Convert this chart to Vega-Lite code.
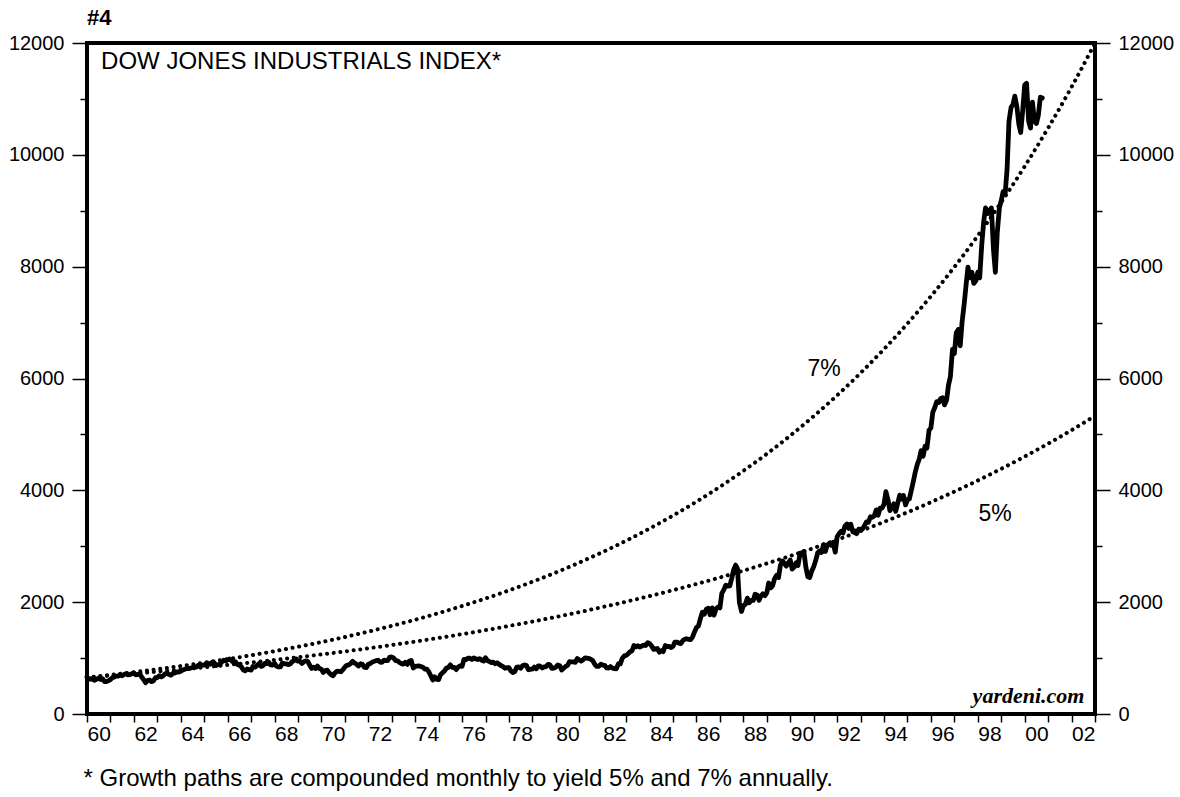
{
"$schema": "https://vega.github.io/schema/vega-lite/v6.json",
"width": 1008, "height": 671,
"autosize": {"type": "none"},
"padding": {"left": 87, "top": 43, "right": 85, "bottom": 83},
"background": "white",
"config": {
  "view": {"stroke": "black", "strokeWidth": 4},
  "axis": {"labelFont": "Liberation Sans", "titleFont": "Liberation Sans", "labelColor": "black", "titleColor": "black", "tickColor": "black", "domain": false, "grid": false},
  "text": {"font": "Liberation Sans", "color": "black"}
},
"title": {"text": "#4", "anchor": "start", "frame": "group", "fontSize": 22, "fontWeight": "bold", "font": "Liberation Sans", "color": "black", "offset": 3},
"datasets": {
"dow": [
{"year":1960,"dow":660},{"year":1960.08,"dow":623},{"year":1960.17,"dow":630},{"year":1960.25,"dow":617},{"year":1960.33,"dow":602},{"year":1960.42,"dow":626},{"year":1960.5,"dow":641},{"year":1960.58,"dow":617},{"year":1960.67,"dow":626},{"year":1960.75,"dow":580},{"year":1960.83,"dow":580},{"year":1960.92,"dow":597},{"year":1961,"dow":616},
{"year":1961.08,"dow":648},{"year":1961.17,"dow":662},{"year":1961.25,"dow":677},{"year":1961.33,"dow":679},{"year":1961.42,"dow":697},{"year":1961.5,"dow":684},{"year":1961.58,"dow":705},{"year":1961.67,"dow":720},{"year":1961.75,"dow":701},{"year":1961.83,"dow":704},{"year":1961.92,"dow":722},{"year":1962,"dow":731},
{"year":1962.08,"dow":700},{"year":1962.17,"dow":708},{"year":1962.25,"dow":707},{"year":1962.33,"dow":665},{"year":1962.42,"dow":613},{"year":1962.5,"dow":561},{"year":1962.58,"dow":598},{"year":1962.67,"dow":609},{"year":1962.75,"dow":579},{"year":1962.83,"dow":590},{"year":1962.92,"dow":649},{"year":1963,"dow":652},
{"year":1963.08,"dow":683},{"year":1963.17,"dow":663},{"year":1963.25,"dow":683},{"year":1963.33,"dow":718},{"year":1963.42,"dow":727},{"year":1963.5,"dow":707},{"year":1963.58,"dow":695},{"year":1963.67,"dow":729},{"year":1963.75,"dow":733},{"year":1963.83,"dow":755},{"year":1963.92,"dow":751},{"year":1964,"dow":763},
{"year":1964.08,"dow":785},{"year":1964.17,"dow":800},{"year":1964.25,"dow":813},{"year":1964.33,"dow":811},{"year":1964.42,"dow":821},{"year":1964.5,"dow":832},{"year":1964.58,"dow":841},{"year":1964.67,"dow":839},{"year":1964.75,"dow":875},{"year":1964.83,"dow":873},{"year":1964.92,"dow":875},{"year":1965,"dow":874},
{"year":1965.08,"dow":903},{"year":1965.17,"dow":904},{"year":1965.25,"dow":889},{"year":1965.33,"dow":922},{"year":1965.42,"dow":918},{"year":1965.5,"dow":868},{"year":1965.58,"dow":882},{"year":1965.67,"dow":893},{"year":1965.75,"dow":931},{"year":1965.83,"dow":961},{"year":1965.92,"dow":947},{"year":1966,"dow":969},
{"year":1966.08,"dow":984},{"year":1966.17,"dow":952},{"year":1966.25,"dow":925},{"year":1966.33,"dow":934},{"year":1966.42,"dow":884},{"year":1966.5,"dow":870},{"year":1966.58,"dow":847},{"year":1966.67,"dow":788},{"year":1966.75,"dow":774},{"year":1966.83,"dow":807},{"year":1966.92,"dow":792},{"year":1967,"dow":786},
{"year":1967.08,"dow":850},{"year":1967.17,"dow":839},{"year":1967.25,"dow":866},{"year":1967.33,"dow":897},{"year":1967.42,"dow":853},{"year":1967.5,"dow":860},{"year":1967.58,"dow":904},{"year":1967.67,"dow":901},{"year":1967.75,"dow":927},{"year":1967.83,"dow":880},{"year":1967.92,"dow":876},{"year":1968,"dow":905},
{"year":1968.08,"dow":856},{"year":1968.17,"dow":841},{"year":1968.25,"dow":841},{"year":1968.33,"dow":912},{"year":1968.42,"dow":899},{"year":1968.5,"dow":898},{"year":1968.58,"dow":883},{"year":1968.67,"dow":896},{"year":1968.75,"dow":936},{"year":1968.83,"dow":952},{"year":1968.92,"dow":985},{"year":1969,"dow":944},
{"year":1969.08,"dow":946},{"year":1969.17,"dow":905},{"year":1969.25,"dow":936},{"year":1969.33,"dow":950},{"year":1969.42,"dow":938},{"year":1969.5,"dow":873},{"year":1969.58,"dow":816},{"year":1969.67,"dow":837},{"year":1969.75,"dow":813},{"year":1969.83,"dow":856},{"year":1969.92,"dow":812},{"year":1970,"dow":800},
{"year":1970.08,"dow":744},{"year":1970.17,"dow":778},{"year":1970.25,"dow":786},{"year":1970.33,"dow":736},{"year":1970.42,"dow":700},{"year":1970.5,"dow":684},{"year":1970.58,"dow":734},{"year":1970.67,"dow":765},{"year":1970.75,"dow":761},{"year":1970.83,"dow":756},{"year":1970.92,"dow":794},{"year":1971,"dow":839},
{"year":1971.08,"dow":869},{"year":1971.17,"dow":879},{"year":1971.25,"dow":904},{"year":1971.33,"dow":942},{"year":1971.42,"dow":908},{"year":1971.5,"dow":891},{"year":1971.58,"dow":858},{"year":1971.67,"dow":898},{"year":1971.75,"dow":887},{"year":1971.83,"dow":839},{"year":1971.92,"dow":831},{"year":1972,"dow":890},
{"year":1972.08,"dow":902},{"year":1972.17,"dow":928},{"year":1972.25,"dow":941},{"year":1972.33,"dow":954},{"year":1972.42,"dow":961},{"year":1972.5,"dow":929},{"year":1972.58,"dow":925},{"year":1972.67,"dow":964},{"year":1972.75,"dow":953},{"year":1972.83,"dow":956},{"year":1972.92,"dow":1018},{"year":1973,"dow":1020},
{"year":1973.08,"dow":999},{"year":1973.17,"dow":955},{"year":1973.25,"dow":951},{"year":1973.33,"dow":921},{"year":1973.42,"dow":901},{"year":1973.5,"dow":892},{"year":1973.58,"dow":926},{"year":1973.67,"dow":888},{"year":1973.75,"dow":947},{"year":1973.83,"dow":957},{"year":1973.92,"dow":822},{"year":1974,"dow":851},
{"year":1974.08,"dow":856},{"year":1974.17,"dow":861},{"year":1974.25,"dow":847},{"year":1974.33,"dow":837},{"year":1974.42,"dow":802},{"year":1974.5,"dow":802},{"year":1974.58,"dow":757},{"year":1974.67,"dow":679},{"year":1974.75,"dow":608},{"year":1974.83,"dow":666},{"year":1974.92,"dow":619},{"year":1975,"dow":616},
{"year":1975.08,"dow":704},{"year":1975.17,"dow":739},{"year":1975.25,"dow":768},{"year":1975.33,"dow":821},{"year":1975.42,"dow":832},{"year":1975.5,"dow":879},{"year":1975.58,"dow":832},{"year":1975.67,"dow":835},{"year":1975.75,"dow":794},{"year":1975.83,"dow":836},{"year":1975.92,"dow":861},{"year":1976,"dow":852},
{"year":1976.08,"dow":975},{"year":1976.17,"dow":973},{"year":1976.25,"dow":1000},{"year":1976.33,"dow":997},{"year":1976.42,"dow":975},{"year":1976.5,"dow":1003},{"year":1976.58,"dow":985},{"year":1976.67,"dow":974},{"year":1976.75,"dow":990},{"year":1976.83,"dow":965},{"year":1976.92,"dow":947},{"year":1977,"dow":1005},
{"year":1977.08,"dow":954},{"year":1977.17,"dow":936},{"year":1977.25,"dow":919},{"year":1977.33,"dow":927},{"year":1977.42,"dow":899},{"year":1977.5,"dow":916},{"year":1977.58,"dow":890},{"year":1977.67,"dow":862},{"year":1977.75,"dow":847},{"year":1977.83,"dow":818},{"year":1977.92,"dow":830},{"year":1978,"dow":831},
{"year":1978.08,"dow":770},{"year":1978.17,"dow":742},{"year":1978.25,"dow":757},{"year":1978.33,"dow":837},{"year":1978.42,"dow":841},{"year":1978.5,"dow":819},{"year":1978.58,"dow":862},{"year":1978.67,"dow":877},{"year":1978.75,"dow":866},{"year":1978.83,"dow":792},{"year":1978.92,"dow":799},{"year":1979,"dow":805},
{"year":1979.08,"dow":839},{"year":1979.17,"dow":809},{"year":1979.25,"dow":862},{"year":1979.33,"dow":855},{"year":1979.42,"dow":822},{"year":1979.5,"dow":842},{"year":1979.58,"dow":846},{"year":1979.67,"dow":888},{"year":1979.75,"dow":879},{"year":1979.83,"dow":816},{"year":1979.92,"dow":822},{"year":1980,"dow":839},
{"year":1980.08,"dow":876},{"year":1980.17,"dow":863},{"year":1980.25,"dow":786},{"year":1980.33,"dow":817},{"year":1980.42,"dow":851},{"year":1980.5,"dow":868},{"year":1980.58,"dow":935},{"year":1980.67,"dow":933},{"year":1980.75,"dow":932},{"year":1980.83,"dow":925},{"year":1980.92,"dow":993},{"year":1981,"dow":964},
{"year":1981.08,"dow":947},{"year":1981.17,"dow":975},{"year":1981.25,"dow":1004},{"year":1981.33,"dow":998},{"year":1981.42,"dow":992},{"year":1981.5,"dow":977},{"year":1981.58,"dow":952},{"year":1981.67,"dow":882},{"year":1981.75,"dow":850},{"year":1981.83,"dow":853},{"year":1981.92,"dow":889},{"year":1982,"dow":875},
{"year":1982.08,"dow":871},{"year":1982.17,"dow":824},{"year":1982.25,"dow":823},{"year":1982.33,"dow":848},{"year":1982.42,"dow":820},{"year":1982.5,"dow":812},{"year":1982.58,"dow":809},{"year":1982.67,"dow":901},{"year":1982.75,"dow":896},{"year":1982.83,"dow":992},{"year":1982.92,"dow":1039},{"year":1983,"dow":1047},
{"year":1983.08,"dow":1076},{"year":1983.17,"dow":1113},{"year":1983.25,"dow":1130},{"year":1983.33,"dow":1226},{"year":1983.42,"dow":1200},{"year":1983.5,"dow":1222},{"year":1983.58,"dow":1199},{"year":1983.67,"dow":1216},{"year":1983.75,"dow":1233},{"year":1983.83,"dow":1225},{"year":1983.92,"dow":1276},{"year":1984,"dow":1259},
{"year":1984.08,"dow":1221},{"year":1984.17,"dow":1155},{"year":1984.25,"dow":1165},{"year":1984.33,"dow":1171},{"year":1984.42,"dow":1105},{"year":1984.5,"dow":1132},{"year":1984.58,"dow":1115},{"year":1984.67,"dow":1224},{"year":1984.75,"dow":1207},{"year":1984.83,"dow":1207},{"year":1984.92,"dow":1189},{"year":1985,"dow":1212},
{"year":1985.08,"dow":1287},{"year":1985.17,"dow":1284},{"year":1985.25,"dow":1267},{"year":1985.33,"dow":1258},{"year":1985.42,"dow":1315},{"year":1985.5,"dow":1336},{"year":1985.58,"dow":1347},{"year":1985.67,"dow":1334},{"year":1985.75,"dow":1329},{"year":1985.83,"dow":1374},{"year":1985.92,"dow":1472},{"year":1986,"dow":1547},
{"year":1986.08,"dow":1571},{"year":1986.17,"dow":1709},{"year":1986.25,"dow":1819},{"year":1986.33,"dow":1784},{"year":1986.42,"dow":1877},{"year":1986.5,"dow":1893},{"year":1986.58,"dow":1775},{"year":1986.67,"dow":1898},{"year":1986.75,"dow":1768},{"year":1986.83,"dow":1878},{"year":1986.92,"dow":1914},{"year":1987,"dow":1896},
{"year":1987.08,"dow":2158},{"year":1987.17,"dow":2224},{"year":1987.25,"dow":2305},{"year":1987.33,"dow":2286},{"year":1987.42,"dow":2292},{"year":1987.5,"dow":2419},{"year":1987.58,"dow":2572},{"year":1987.67,"dow":2663},{"year":1987.75,"dow":2596},{"year":1987.83,"dow":1994},{"year":1987.92,"dow":1834},{"year":1988,"dow":1939},
{"year":1988.08,"dow":1958},{"year":1988.17,"dow":2072},{"year":1988.25,"dow":1988},{"year":1988.33,"dow":2032},{"year":1988.42,"dow":2031},{"year":1988.5,"dow":2142},{"year":1988.58,"dow":2129},{"year":1988.67,"dow":2032},{"year":1988.75,"dow":2113},{"year":1988.83,"dow":2149},{"year":1988.92,"dow":2115},{"year":1989,"dow":2169},
{"year":1989.08,"dow":2342},{"year":1989.17,"dow":2258},{"year":1989.25,"dow":2294},{"year":1989.33,"dow":2419},{"year":1989.42,"dow":2480},{"year":1989.5,"dow":2440},{"year":1989.58,"dow":2661},{"year":1989.67,"dow":2737},{"year":1989.75,"dow":2693},{"year":1989.83,"dow":2645},{"year":1989.92,"dow":2706},{"year":1990,"dow":2753},
{"year":1990.08,"dow":2591},{"year":1990.17,"dow":2627},{"year":1990.25,"dow":2707},{"year":1990.33,"dow":2657},{"year":1990.42,"dow":2877},{"year":1990.5,"dow":2881},{"year":1990.58,"dow":2905},{"year":1990.67,"dow":2614},{"year":1990.75,"dow":2453},{"year":1990.83,"dow":2442},{"year":1990.92,"dow":2560},{"year":1991,"dow":2634},
{"year":1991.08,"dow":2736},{"year":1991.17,"dow":2882},{"year":1991.25,"dow":2914},{"year":1991.33,"dow":2888},{"year":1991.42,"dow":3028},{"year":1991.5,"dow":2907},{"year":1991.58,"dow":3025},{"year":1991.67,"dow":3044},{"year":1991.75,"dow":3017},{"year":1991.83,"dow":3069},{"year":1991.92,"dow":2895},{"year":1992,"dow":3169},
{"year":1992.08,"dow":3223},{"year":1992.17,"dow":3268},{"year":1992.25,"dow":3236},{"year":1992.33,"dow":3359},{"year":1992.42,"dow":3397},{"year":1992.5,"dow":3319},{"year":1992.58,"dow":3394},{"year":1992.67,"dow":3257},{"year":1992.75,"dow":3272},{"year":1992.83,"dow":3226},{"year":1992.92,"dow":3305},{"year":1993,"dow":3301},
{"year":1993.08,"dow":3310},{"year":1993.17,"dow":3371},{"year":1993.25,"dow":3435},{"year":1993.33,"dow":3428},{"year":1993.42,"dow":3527},{"year":1993.5,"dow":3516},{"year":1993.58,"dow":3540},{"year":1993.67,"dow":3651},{"year":1993.75,"dow":3555},{"year":1993.83,"dow":3681},{"year":1993.92,"dow":3684},{"year":1994,"dow":3754},
{"year":1994.08,"dow":3978},{"year":1994.17,"dow":3832},{"year":1994.25,"dow":3636},{"year":1994.33,"dow":3682},{"year":1994.42,"dow":3758},{"year":1994.5,"dow":3625},{"year":1994.58,"dow":3765},{"year":1994.67,"dow":3913},{"year":1994.75,"dow":3843},{"year":1994.83,"dow":3908},{"year":1994.92,"dow":3739},{"year":1995,"dow":3834},
{"year":1995.08,"dow":3844},{"year":1995.17,"dow":4011},{"year":1995.25,"dow":4158},{"year":1995.33,"dow":4321},{"year":1995.42,"dow":4465},{"year":1995.5,"dow":4556},{"year":1995.58,"dow":4709},{"year":1995.67,"dow":4611},{"year":1995.75,"dow":4789},{"year":1995.83,"dow":4756},{"year":1995.92,"dow":5075},{"year":1996,"dow":5117},
{"year":1996.08,"dow":5395},{"year":1996.17,"dow":5486},{"year":1996.25,"dow":5587},{"year":1996.33,"dow":5569},{"year":1996.42,"dow":5643},{"year":1996.5,"dow":5655},{"year":1996.58,"dow":5529},{"year":1996.67,"dow":5616},{"year":1996.75,"dow":5882},{"year":1996.83,"dow":6029},{"year":1996.92,"dow":6522},{"year":1997,"dow":6448},
{"year":1997.08,"dow":6813},{"year":1997.17,"dow":6878},{"year":1997.25,"dow":6584},{"year":1997.33,"dow":7009},{"year":1997.42,"dow":7331},{"year":1997.5,"dow":7673},{"year":1997.58,"dow":7990},{"year":1997.67,"dow":7800},{"year":1997.75,"dow":7900},{"year":1997.83,"dow":7700},{"year":1997.92,"dow":7750},{"year":1998,"dow":7900},
{"year":1998.08,"dow":7800},{"year":1998.17,"dow":8400},{"year":1998.25,"dow":8800},{"year":1998.33,"dow":9050},{"year":1998.42,"dow":8950},{"year":1998.5,"dow":9000},{"year":1998.58,"dow":9050},{"year":1998.67,"dow":8300},{"year":1998.75,"dow":7900},{"year":1998.83,"dow":8600},{"year":1998.92,"dow":9050},{"year":1999,"dow":9181},
{"year":1999.08,"dow":9340},{"year":1999.17,"dow":9320},{"year":1999.25,"dow":9750},{"year":1999.33,"dow":10600},{"year":1999.42,"dow":10850},{"year":1999.5,"dow":10900},{"year":1999.58,"dow":11050},{"year":1999.67,"dow":10850},{"year":1999.75,"dow":10550},{"year":1999.83,"dow":10400},{"year":1999.92,"dow":10810},{"year":2000,"dow":11250},
{"year":2000.08,"dow":11280},{"year":2000.17,"dow":10600},{"year":2000.25,"dow":10480},{"year":2000.33,"dow":10944},{"year":2000.42,"dow":10600},{"year":2000.5,"dow":10560},{"year":2000.58,"dow":10700},{"year":2000.67,"dow":11030},{"year":2000.75,"dow":11016}
],
"g7": [
{"year":1960,"g":654},{"year":1961,"g":699.8},{"year":1962,"g":748.8},{"year":1963,"g":801.2},{"year":1964,"g":857.3},{"year":1965,"g":917.3},{"year":1966,"g":981.5},{"year":1967,"g":1050.2},{"year":1968,"g":1123.7},{"year":1969,"g":1202.3},{"year":1970,"g":1286.5},{"year":1971,"g":1376.5},{"year":1972,"g":1472.9},{"year":1973,"g":1576.0},{"year":1974,"g":1686.3},{"year":1975,"g":1804.3},{"year":1976,"g":1930.6},{"year":1977,"g":2065.8},{"year":1978,"g":2210.4},{"year":1979,"g":2365.1},{"year":1980,"g":2530.7},{"year":1981,"g":2707.8},{"year":1982,"g":2897.4},{"year":1983,"g":3100.2},{"year":1984,"g":3317.2},{"year":1985,"g":3549.4},{"year":1986,"g":3797.9},{"year":1987,"g":4063.7},{"year":1988,"g":4348.2},{"year":1989,"g":4652.6},{"year":1990,"g":4978.3},{"year":1991,"g":5326.7},{"year":1992,"g":5699.6},{"year":1993,"g":6098.6},{"year":1994,"g":6525.5},{"year":1995,"g":6982.3},{"year":1996,"g":7471.0},{"year":1997,"g":7994.0},{"year":1998,"g":8553.6},{"year":1999,"g":9152.3},{"year":2000,"g":9793.0},{"year":2001,"g":10478.5},{"year":2002,"g":11212.0},{"year":2003,"g":11996.9}
],
"g5": [
{"year":1960,"g":654},{"year":1961,"g":686.7},{"year":1962,"g":721.0},{"year":1963,"g":757.1},{"year":1964,"g":795.0},{"year":1965,"g":834.7},{"year":1966,"g":876.4},{"year":1967,"g":920.3},{"year":1968,"g":966.3},{"year":1969,"g":1014.6},{"year":1970,"g":1065.3},{"year":1971,"g":1118.6},{"year":1972,"g":1174.5},{"year":1973,"g":1233.3},{"year":1974,"g":1294.9},{"year":1975,"g":1359.7},{"year":1976,"g":1427.6},{"year":1977,"g":1499.0},{"year":1978,"g":1574.0},{"year":1979,"g":1652.7},{"year":1980,"g":1735.3},{"year":1981,"g":1822.1},{"year":1982,"g":1913.2},{"year":1983,"g":2008.8},{"year":1984,"g":2109.3},{"year":1985,"g":2214.7},{"year":1986,"g":2325.5},{"year":1987,"g":2441.7},{"year":1988,"g":2563.8},{"year":1989,"g":2692.0},{"year":1990,"g":2826.6},{"year":1991,"g":2968.0},{"year":1992,"g":3116.4},{"year":1993,"g":3272.2},{"year":1994,"g":3435.8},{"year":1995,"g":3607.6},{"year":1996,"g":3788.0},{"year":1997,"g":3977.4},{"year":1998,"g":4176.2},{"year":1999,"g":4385.1},{"year":2000,"g":4604.3},{"year":2001,"g":4834.5},{"year":2002,"g":5076.3},{"year":2003,"g":5330.1}
],
"pct": [
{"year":1991.44,"value":6178,"label":"7%"},{"year":1998.74,"value":3585,"label":"5%"}
],
"head": [{"year":1960.6,"value":11660,"label":"DOW JONES INDUSTRIALS INDEX*"}],
"src": [{"year":2002.55,"value":330,"label":"yardeni.com"}]
},
"encoding": {
  "x": {"field": "year", "type": "quantitative", "scale": {"domain": [1960, 2003], "nice": false, "zero": false},
   "axis": {"values": [1960,1961,1962,1963,1964,1965,1966,1967,1968,1969,1970,1971,1972,1973,1974,1975,1976,1977,1978,1979,1980,1981,1982,1983,1984,1985,1986,1987,1988,1989,1990,1991,1992,1993,1994,1995,1996,1997,1998,1999,2000,2001,2002,2003],
    "labelExpr": "datum.value % 2 == 0 && datum.value < 2003 ? slice('' + datum.value, 2) : ''",
    "labelOffset": 11.7, "labelFontSize": 21, "labelPadding": 1, "labelFlush": false, "labelOverlap": false, "labelBound": false,
    "tickSize": 8, "tickWidth": 1.5,
    "title": "* Growth paths are compounded monthly to yield 5% and 7% annually.",
    "titleAnchor": "start", "titleAlign": "left", "titleX": -4, "titleFontSize": 24, "titleFontWeight": "normal", "titlePadding": 22}}
},
"layer": [
{
 "data": {"name": "dow"},
 "mark": {"type": "line", "color": "black", "strokeWidth": 4.8, "strokeJoin": "round", "strokeCap": "round"},
 "encoding": {
  "y": {"field": "dow", "type": "quantitative", "scale": {"domain": [0, 12000], "nice": false},
   "axis": {"orient": "left", "values": [0,1000,2000,3000,4000,5000,6000,7000,8000,9000,10000,11000,12000], "format": "d",
    "labelExpr": "datum.value % 2000 == 0 ? datum.label : ''",
    "labelFontSize": 20, "labelPadding": 8, "labelOverlap": false, "labelFlush": false, "labelBound": false,
    "tickSize": {"condition": {"test": "datum.value % 2000 == 0", "value": 15}, "value": 7}, "tickWidth": 1.5, "title": null}}
 }
},
{
 "data": {"name": "g7"},
 "mark": {"type": "line", "color": "black", "strokeWidth": 4, "strokeDash": [0.1, 6.6], "strokeCap": "round", "interpolate": "monotone"},
 "encoding": {
  "y": {"field": "g", "type": "quantitative", "scale": {"domain": [0, 12000], "nice": false},
   "axis": {"orient": "right", "values": [0,1000,2000,3000,4000,5000,6000,7000,8000,9000,10000,11000,12000], "format": "d",
    "labelExpr": "datum.value % 2000 == 0 ? datum.label : ''",
    "labelFontSize": 20, "labelPadding": 8, "labelOverlap": false, "labelFlush": false, "labelBound": false,
    "tickSize": {"condition": {"test": "datum.value % 2000 == 0", "value": 15}, "value": 7}, "tickWidth": 1.5, "title": null}}
 }
},
{
 "data": {"name": "g5"},
 "mark": {"type": "line", "color": "black", "strokeWidth": 4, "strokeDash": [0.1, 6.6], "strokeCap": "round", "interpolate": "monotone"},
 "encoding": {
  "y": {"field": "g", "type": "quantitative", "scale": {"domain": [0, 12000], "nice": false}, "axis": null}
 }
},
{
 "data": {"name": "pct"},
 "mark": {"type": "text", "fontSize": 23, "align": "center", "baseline": "middle", "color": "black"},
 "encoding": {
  "y": {"field": "value", "type": "quantitative", "scale": {"domain": [0, 12000], "nice": false}, "axis": null},
  "text": {"field": "label"}
 }
},
{
 "data": {"name": "head"},
 "mark": {"type": "text", "fontSize": 24, "align": "left", "baseline": "middle", "color": "black"},
 "encoding": {
  "y": {"field": "value", "type": "quantitative", "scale": {"domain": [0, 12000], "nice": false}, "axis": null},
  "text": {"field": "label"}
 }
},
{
 "data": {"name": "src"},
 "mark": {"type": "text", "font": "Liberation Serif", "fontSize": 22, "fontWeight": "bold", "fontStyle": "italic", "align": "right", "baseline": "middle", "color": "black"},
 "encoding": {
  "y": {"field": "value", "type": "quantitative", "scale": {"domain": [0, 12000], "nice": false}, "axis": null},
  "text": {"field": "label"}
 }
}
],
"resolve": {"scale": {"y": "independent"}, "axis": {"y": "independent"}}
}
